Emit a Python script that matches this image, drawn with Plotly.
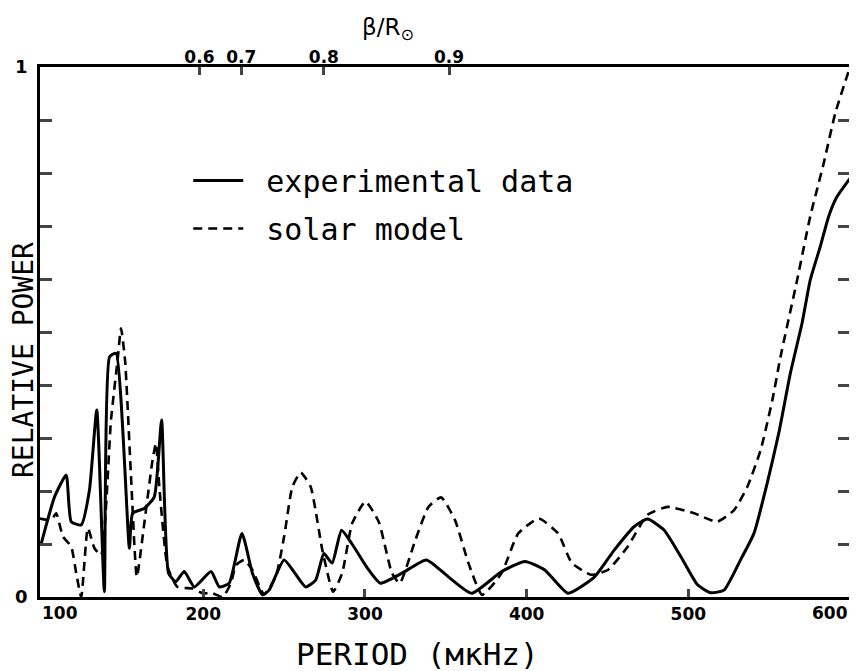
import plotly.graph_objects as go

# Experimental data (solid)
exp_x = [99.8, 108, 115.2, 118.3, 124.5, 129.6, 134.1, 138.8, 142, 146, 154.3, 156.3, 163.5, 169.7,
         174.2, 178.5, 183, 188.2, 194.5, 204.8, 209.9, 216, 223.9, 230.4, 236.6, 240.7, 250, 263.3,
         269.5, 274.6, 279.7, 285.5, 292, 302.3, 309.5, 322.9, 338, 351.6, 366, 384.5, 399, 411.2,
         425.6, 442, 454.3, 466.6, 474.8, 485.1, 495.4, 505.7, 513.9, 522.1, 532.3, 540.6, 548.8,
         556, 563.1, 570.3, 575.4, 581.6, 586.8, 591.9, 600]
exp_y = [0.101, 0.189, 0.230, 0.142, 0.136, 0.202, 0.353, 0.010, 0.453, 0.460, 0.092, 0.158, 0.167, 0.189,
         0.334, 0.045, 0.029, 0.048, 0.019, 0.048, 0.019, 0.026, 0.120, 0.045, 0.004, 0.013, 0.070, 0.019,
         0.032, 0.082, 0.064, 0.126, 0.100, 0.051, 0.026, 0.045, 0.070, 0.038, 0.007, 0.048, 0.067, 0.051,
         0.007, 0.038, 0.089, 0.133, 0.147, 0.126, 0.076, 0.023, 0.008, 0.013, 0.070, 0.120, 0.215,
         0.310, 0.422, 0.516, 0.598, 0.661, 0.718, 0.755, 0.790]

# Solar model (dashed)
mod_x = [99, 106, 109, 113.2, 118.3, 121.4, 124.5, 128.6, 132.7, 136.8, 142.9, 147, 149.1, 151.6, 155.3,
         158.9, 163.5, 168.6, 170.7, 172.8, 177.9, 184, 193.5, 199.6, 205.8, 212, 217.1, 220.2, 225.3,
         230.4, 237.6, 244.8, 250, 255.1, 260.2, 266.4, 273.6, 280.3, 285.9, 292.1, 300.3, 308.5, 316.7,
         321.5, 331.2, 339.3, 347.1, 355.7, 364, 372.5, 384.5, 394.8, 407.5, 419.4, 428, 439.9, 450.2,
         462.5, 474.8, 487.2, 503.6, 517.8, 528.3, 536.5, 544.7, 552, 557, 567.3, 575.4, 583.7, 590.9, 600]
mod_y = [0.148, 0.145, 0.158, 0.114, 0.095, 0.045, 0.0, 0.130, 0.092, 0.079, 0.334, 0.447, 0.507, 0.447, 0.227,
         0.038, 0.139, 0.258, 0.290, 0.208, 0.057, 0.019, 0.016, 0.007, 0.007, 0.0, 0.026, 0.060, 0.070,
         0.051, 0.005, 0.038, 0.114, 0.208, 0.235, 0.208, 0.089, 0.010, 0.045, 0.139, 0.180, 0.142, 0.045,
         0.026, 0.108, 0.170, 0.188, 0.145, 0.064, 0.004, 0.045, 0.120, 0.148, 0.120, 0.064, 0.042, 0.051,
         0.095, 0.155, 0.170, 0.158, 0.142, 0.164, 0.208, 0.277, 0.372, 0.453, 0.598, 0.718, 0.818, 0.913, 1.0]

series_names = ["experimental data", "solar model"]
period_ticks = [200, 300, 400, 500]
period_labels = ["200", "300", "400", "500"]
edge_labels = [(99, "100", "left"), (600, "600", "right")]
r_tick_pos = [197.6, 223.5, 274.6, 352]
r_tick_labels = ["0.6", "0.7", "0.8", "0.9"]
y_ticks = [i / 10 for i in range(11)]
y_labels = ["0", "", "", "", "", "", "", "", "", "", "1"]

FONT = "DejaVu Sans"
MONO = "DejaVu Sans Mono"
PAD = "\u00a0"

fig = go.Figure()
fig.add_trace(go.Scatter(x=exp_x, y=exp_y, mode="lines", name=PAD + series_names[0], legendgroup="a",
                         line=dict(color="black", width=3, shape="spline", smoothing=0.5)))
fig.add_trace(go.Scatter(x=mod_x, y=mod_y, mode="lines", name=PAD + series_names[1], legendgroup="b",
                         line=dict(color="black", width=2.6, dash="9px,6px", shape="spline", smoothing=0.5)))
fig.add_trace(go.Scatter(x=[None], y=[None], xaxis="x2", showlegend=False))

# page body has an 8px margin: the figure is sized and offset to compensate
fig.update_layout(
    width=849, height=663,
    margin=dict(l=32, r=4, t=59, b=74),
    plot_bgcolor="white", paper_bgcolor="white",
    font=dict(family=FONT, color="black"),
    xaxis=dict(range=[99, 600], showgrid=False, zeroline=False, showline=True, linecolor="black",
               linewidth=2.5, mirror=True, ticks="inside", ticklen=8, tickwidth=2.5,
               tickvals=period_ticks, ticktext=period_labels,
               tickfont=dict(size=17, family=FONT, weight="bold")),
    xaxis2=dict(range=[99, 600], overlaying="x", side="top", showgrid=False, zeroline=False,
                showline=False, ticks="inside", ticklen=8, tickwidth=2.5,
                tickvals=r_tick_pos, ticktext=r_tick_labels,
                tickfont=dict(size=17, family=FONT, weight="bold")),
    yaxis=dict(range=[0, 1], showgrid=False, zeroline=False, showline=True, linecolor="black",
               linewidth=2.5, mirror="ticks", ticks="inside", ticklen=12, tickwidth=2.5,
               tickvals=y_ticks, ticktext=y_labels, ticklabelstandoff=6,
               tickfont=dict(size=18, family=FONT, weight="bold")),
    legend=dict(x=0.183, y=0.835, xanchor="left", yanchor="top", bgcolor="rgba(0,0,0,0)",
                font=dict(size=30, family=MONO), itemwidth=50, tracegroupgap=6),
)

for xv, txt, anc in edge_labels:
    fig.add_annotation(x=xv, y=0, xref="x", yref="y", text=txt, showarrow=False, xanchor=anc,
                       yanchor="top", yshift=-4, font=dict(size=17, family=FONT, weight="bold"))

fig.add_annotation(x=-0.021, y=0.447, xref="paper", yref="paper", text="RELATIVE POWER", textangle=-90,
                   xanchor="center", yanchor="middle",
                   showarrow=False, font=dict(size=28, family=MONO))
fig.add_annotation(x=0.466, y=-0.108, xref="paper", yref="paper", text="PERIOD (мкHz)",
                   showarrow=False, xanchor="center", yanchor="middle", font=dict(size=31, family=MONO))
fig.add_annotation(x=0.43, y=1.072, xref="paper", yref="paper", text="β/R<sub>⊙</sub>",
                   showarrow=False, xanchor="center", yanchor="middle", font=dict(size=23, family=FONT))

fig.write_html("out.html")
